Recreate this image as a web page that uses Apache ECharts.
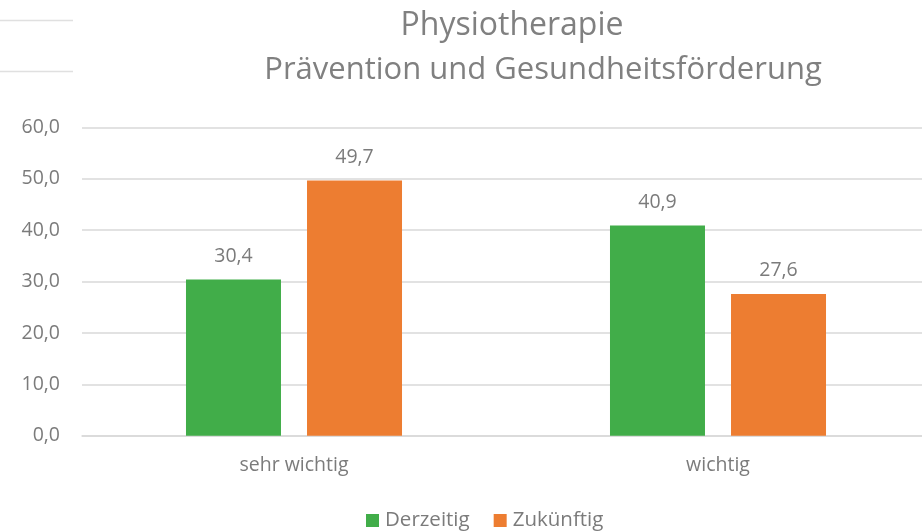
<!DOCTYPE html>
<html>
<head>
<meta charset="utf-8">
<script src="https://cdn.jsdelivr.net/npm/echarts@6/dist/echarts.min.js"></script>
<style>html,body{margin:0;padding:0;background:#fff;overflow:hidden}#c{width:930px;height:532px}</style>
</head>
<body>
<div id="c"></div>
<script>
const categories = ['sehr wichtig', 'wichtig'];
const seriesNames = ['Derzeitig', 'Zukünftig'];
const derzeitig = [30.4, 40.9];
const zukuenftig = [49.7, 27.6];
const titleLines = ['Physiotherapie', 'Prävention und Gesundheitsförderung'];

const FONT = 'Open Sans';
const TXT = '#7b7b7b';
const fmt = v => v.toFixed(1).replace('.', ',');

const chart = echarts.init(document.getElementById('c'), null, {renderer: 'canvas'});
chart.setOption({
  animation: false,
  textStyle: {fontFamily: FONT},
  title: [
    {text: titleLines[0], left: 507, top: 5, textAlign: 'center',
     textStyle: {fontFamily: FONT, fontSize: 32, fontWeight: 'normal', color: '#808080'}},
    {text: titleLines[1], left: 538, top: 50, textAlign: 'center',
     textStyle: {fontFamily: FONT, fontSize: 31, fontWeight: 'normal', color: '#808080'}}
  ],
  graphic: [
    {type: 'line', shape: {x1: 0, y1: 20.5, x2: 73, y2: 20.5}, style: {stroke: '#e0e0e0', lineWidth: 1.5}},
    {type: 'line', shape: {x1: 0, y1: 71.5, x2: 73, y2: 71.5}, style: {stroke: '#e0e0e0', lineWidth: 1.5}}
  ],
  legend: {
    data: seriesNames,
    top: 505,
    left: 361,
    itemWidth: 13, itemHeight: 13, itemGap: 24,
    icon: 'rect',
    textStyle: {fontFamily: FONT, fontSize: 20.5, color: TXT, padding: [0, 0, 0, 1]}
  },
  grid: {left: 82, top: 127.5, width: 848, height: 308.2, containLabel: false},
  xAxis: {
    type: 'category',
    data: categories,
    axisLine: {show: true, lineStyle: {color: '#d9d9d9', width: 1.5}},
    axisTick: {show: false},
    axisLabel: {fontFamily: FONT, fontSize: 19.5, color: TXT, margin: 20}
  },
  yAxis: {
    type: 'value',
    min: 0, max: 60, interval: 10,
    axisLine: {show: false},
    axisTick: {show: false},
    splitLine: {lineStyle: {color: '#d9d9d9', width: 1.5}},
    axisLabel: {fontFamily: FONT, fontSize: 19.5, color: TXT, margin: 22, formatter: fmt}
  },
  series: [
    {name: seriesNames[0], type: 'bar', data: derzeitig, barWidth: 95, barGap: '27.4%',
     itemStyle: {color: '#41ad49'},
     label: {show: true, position: 'top', distance: 13, fontFamily: FONT, fontSize: 19.5, color: TXT,
             formatter: p => fmt(p.value)}},
    {name: seriesNames[1], type: 'bar', data: zukuenftig, barWidth: 95, barGap: '27.4%',
     itemStyle: {color: '#ed7d31'},
     label: {show: true, position: 'top', distance: 13, fontFamily: FONT, fontSize: 19.5, color: TXT,
             formatter: p => fmt(p.value)}}
  ]
});
</script>
</body>
</html>
